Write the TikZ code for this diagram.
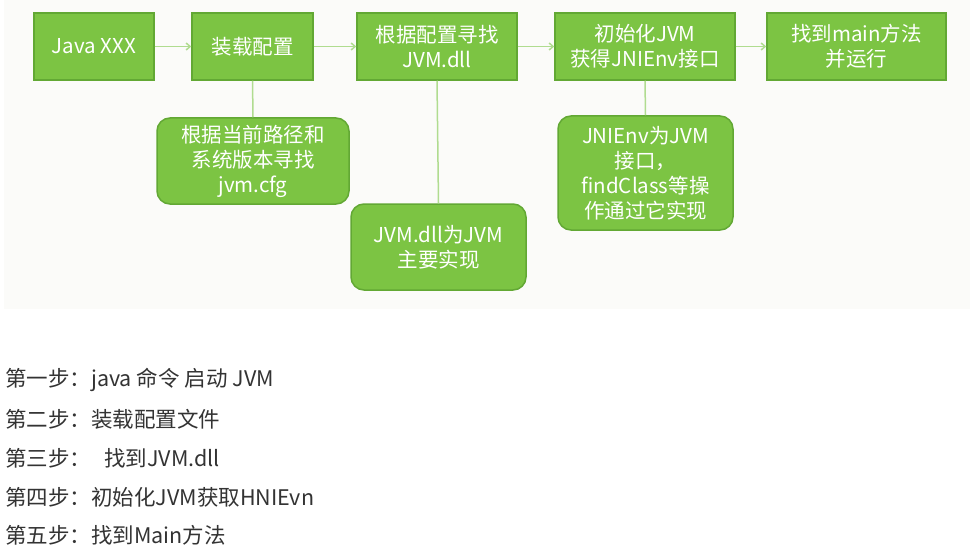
\documentclass[tikz,border=0pt]{standalone}
\usepackage{fontspec}
\setmainfont{Noto Sans CJK SC}
\usetikzlibrary{arrows.meta}
\definecolor{boxfill}{RGB}{124,196,67}
\definecolor{boxline}{RGB}{98,168,52}
\definecolor{linkcol}{RGB}{176,220,144}
\definecolor{bgcol}{RGB}{251,251,249}
\definecolor{txtcol}{RGB}{51,51,51}
\tikzset{
  stepbox/.style={draw=boxline, fill=boxfill, line width=1.5pt, text=white,
    minimum height=67pt, inner sep=0pt, align=center,
    font=\fontsize{20.5}{25}\selectfont},
  notebox/.style={stepbox, rounded corners=13pt},
  flow/.style={draw=linkcol, line width=1.5pt, -{Straight Barb[length=4pt,width=7pt]}},
  link/.style={draw=linkcol, line width=1.5pt},
  caption/.style={anchor=west, inner sep=0pt, text=txtcol, font=\fontsize{21.5}{26}\selectfont}
}
\begin{document}
\begin{tikzpicture}[x=1pt,y=-1pt]
\useasboundingbox (0,0) rectangle (974,559);
\fill[bgcol] (4,0) rectangle (970,309);
\node[stepbox, minimum width=120pt] (b1) at (94,46.5) {Java XXX};
\node[stepbox, minimum width=121pt] (b2) at (252.5,46.5) {装载配置};
\node[stepbox, minimum width=160pt] (b3) at (437,46.5) {根据配置寻找\\JVM.dll};
\node[stepbox, minimum width=180pt] (b4) at (645,46.5) {初始化JVM\\获得JNIEnv接口};
\node[stepbox, minimum width=179pt] (b5) at (856.5,46.5) {找到main方法\\并运行};
\node[notebox, minimum width=192pt, minimum height=86pt] (s1) at (253,161) {根据当前路径和\\系统版本寻找\\jvm.cfg};
\node[notebox, minimum width=175pt, minimum height=86pt] (s2) at (438.5,247) {JVM.dll为JVM\\主要实现};
\node[notebox, minimum width=175pt, minimum height=114pt] (s3) at (645.5,173) {JNIEnv为JVM\\接口，\\findClass等操\\作通过它实现};
\draw[flow] (b1) -- (b2);
\draw[flow] (b2) -- (b3);
\draw[flow] (b3) -- (b4);
\draw[flow] (b4) -- (b5);
\draw[link] (b2.south) -- (s1.north);
\draw[link] (b3.south) -- (s2.north);
\draw[link] (b4.south) -- (s3.north);
\node[caption] (t1) at (5,380) {第一步：java 命令 启动 JVM};
\node[caption] (t2) at (5,419) {第二步：装载配置文件};
\node[caption] (t3) at (5,458) {第三步：\hspace{13pt}找到JVM.dll};
\node[caption] (t4) at (5,497) {第四步：初始化JVM获取HNIEvn};
\node[caption] (t5) at (5,535) {第五步：找到Main方法};
\end{tikzpicture}
\end{document}
